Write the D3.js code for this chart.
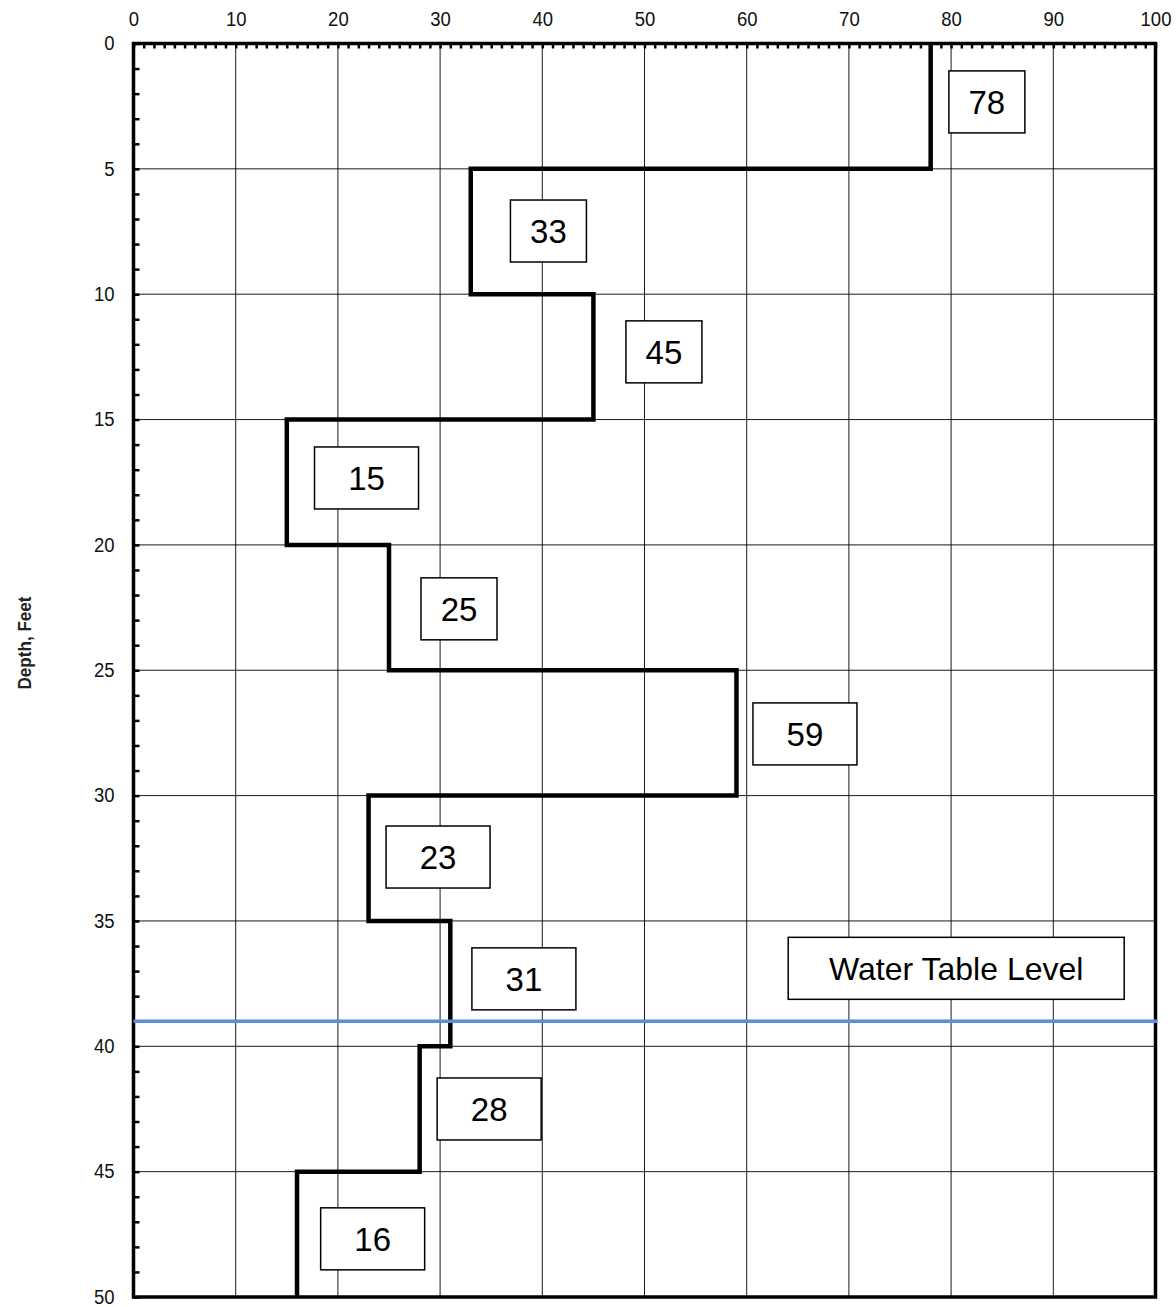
<!DOCTYPE html>
<html>
<head>
<meta charset="utf-8">
<script src="https://cdn.jsdelivr.net/npm/d3@7"></script>
<style>
  html, body { margin: 0; padding: 0; background: #fff; }
  svg { display: block; }
</style>
</head>
<body>
<svg id="chart" width="1176" height="1307"></svg>
<script>
// ---- data ----
const layerTop = [0, 5, 10, 15, 20, 25, 30, 35, 40, 45];
const layerBottom = [5, 10, 15, 20, 25, 30, 35, 40, 45, 50];
const nValues = [78, 33, 45, 15, 25, 59, 23, 31, 28, 16];
// label anchors (data units: value axis, depth)
const labelX = [83.5, 40.6, 51.9, 22.8, 31.85, 65.7, 29.8, 38.2, 34.8, 23.4];
const labelDepth = [2.33, 7.48, 12.3, 17.33, 22.55, 27.54, 32.45, 37.31, 42.5, 47.68];
const waterTableDepth = [39];
const waterLabel = ["Water Table Level"];
const waterLabelX = [80.5];
const waterLabelDepth = [36.89];
const xTicks = [0, 10, 20, 30, 40, 50, 60, 70, 80, 90, 100];
const yTicks = [0, 5, 10, 15, 20, 25, 30, 35, 40, 45, 50];
const yTitle = "Depth, Feet";

// ---- layout ----
const L = 133.5, R = 1155.5, T = 43.5, B = 1297;
const SX = 0.95; // slight horizontal squeeze
const sans = "'Liberation Sans',Arial,sans-serif";
const svg = d3.select("#chart");

const x = d3.scaleLinear().domain([0, 100]).range([L, R]);
const y = d3.scaleLinear().domain([0, 50]).range([T, B]);

// grid
const grid = svg.append("g");
grid.selectAll("line.v").data(xTicks.slice(1, -1)).join("line")
  .attr("x1", d => x(d)).attr("x2", d => x(d)).attr("y1", T).attr("y2", B)
  .attr("stroke", "#000").attr("stroke-width", 0.9);
grid.selectAll("line.h").data(yTicks.slice(1, -1)).join("line")
  .attr("y1", d => y(d)).attr("y2", d => y(d)).attr("x1", L).attr("x2", R)
  .attr("stroke", "#000").attr("stroke-width", 0.9);

// minor ticks top (every 1)
const minorX = d3.range(0, 101, 1);
svg.append("g").attr("transform", `translate(0,${T})`)
  .call(d3.axisBottom(x).tickValues(minorX).tickSize(5).tickFormat(""))
  .call(g => { g.select(".domain").remove(); g.selectAll("line").attr("stroke-width", 2.5).attr("stroke", "#000"); });
// minor ticks left
const minorY = d3.range(0, 51, 1);
svg.append("g").attr("transform", `translate(${L},0)`)
  .call(d3.axisRight(y).tickValues(minorY).tickSize(6).tickFormat(""))
  .call(g => { g.select(".domain").remove(); g.selectAll("line").attr("stroke-width", 2.5).attr("stroke", "#000"); });

// tick labels via axes
svg.append("g").attr("transform", `translate(0,${T})`)
  .call(d3.axisTop(x).tickValues(xTicks).tickSize(0).tickPadding(18).tickFormat(d3.format("d")))
  .call(g => {
    g.select(".domain").remove();
    g.selectAll("text").attr("font-family", sans).attr("font-size", 19.5).attr("fill", "#111")
      .attr("transform", `scale(${SX},1)`);
  });
svg.append("g").attr("transform", `translate(${L},0)`)
  .call(d3.axisLeft(y).tickValues(yTicks).tickSize(0).tickPadding(19).tickFormat(d3.format("d")))
  .call(g => {
    g.select(".domain").remove();
    g.selectAll("text").attr("font-family", sans).attr("font-size", 19.5).attr("fill", "#111")
      .attr("x", -19 / SX).attr("transform", `scale(${SX},1)`);
  });

// frame
svg.append("rect").attr("x", L).attr("y", T).attr("width", R - L).attr("height", B - T)
  .attr("fill", "none").attr("stroke", "#000").attr("stroke-width", 3.5);

// y title
svg.append("text")
  .attr("transform", `translate(31,${643}) rotate(-90) scale(${SX},1)`)
  .attr("text-anchor", "middle")
  .attr("font-family", sans).attr("font-weight", "bold").attr("font-size", 18)
  .attr("fill", "#222")
  .text(yTitle);

// step profile
const pts = [];
nValues.forEach((v, i) => { pts.push([v, layerTop[i]]); pts.push([v, layerBottom[i]]); });
const line = d3.line().x(d => x(d[0])).y(d => y(d[1]));
svg.append("path").datum(pts).attr("d", line)
  .attr("fill", "none").attr("stroke", "#000").attr("stroke-width", 4.5)
  .attr("stroke-linejoin", "miter").attr("stroke-linecap", "butt");

// water table line
svg.selectAll("line.wt").data(waterTableDepth).join("line")
  .attr("x1", L).attr("x2", R + 2).attr("y1", d => y(d)).attr("y2", d => y(d))
  .attr("stroke", "#5b8fd6").attr("stroke-width", 3.5);

// value label boxes
const boxW = [76, 76, 76, 104, 76, 104, 104, 104, 104, 104];
const boxH = 62;
const fs = 33;
const lbl = svg.append("g");
nValues.forEach((v, i) => {
  const cx = x(labelX[i]), cy = y(labelDepth[i]);
  lbl.append("rect").attr("x", cx - boxW[i] / 2).attr("y", cy - boxH / 2)
    .attr("width", boxW[i]).attr("height", boxH)
    .attr("fill", "#fff").attr("stroke", "#000").attr("stroke-width", 1.5);
  lbl.append("text").attr("x", cx).attr("y", cy).attr("dy", "0.36em")
    .attr("text-anchor", "middle")
    .attr("font-family", sans).attr("font-size", fs)
    .attr("fill", "#000").text(v);
});

// water table label
waterLabel.forEach((t, i) => {
  const cx = x(waterLabelX[i]), cy = y(waterLabelDepth[i]);
  lbl.append("rect").attr("x", cx - 168).attr("y", cy - 31).attr("width", 336).attr("height", 62)
    .attr("fill", "#fff").attr("stroke", "#000").attr("stroke-width", 1.5);
  lbl.append("text").attr("x", cx).attr("y", cy).attr("dy", "0.36em")
    .attr("text-anchor", "middle")
    .attr("font-family", sans).attr("font-size", 32)
    .attr("fill", "#000").text(t);
});
</script>
</body>
</html>
